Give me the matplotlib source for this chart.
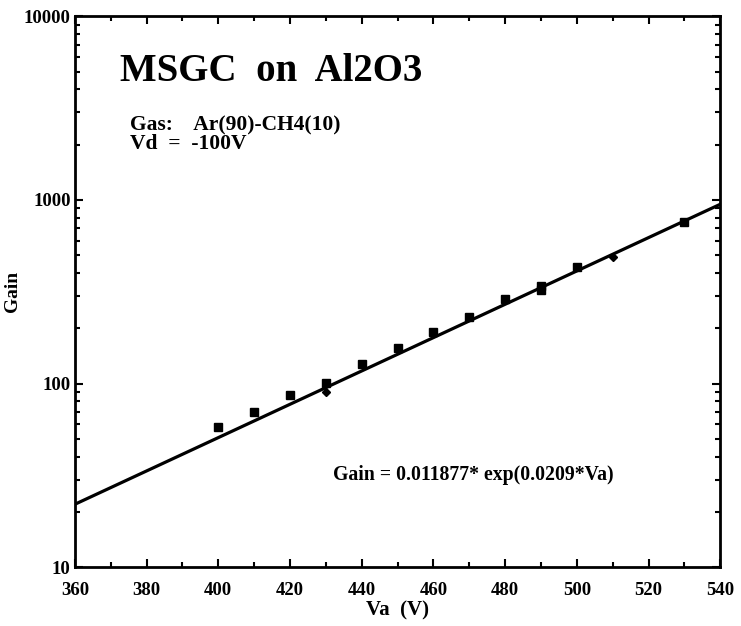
import numpy as np
import matplotlib
matplotlib.use('Agg')
import matplotlib.pyplot as plt
from matplotlib.ticker import MultipleLocator, LogLocator, NullFormatter, FixedLocator

# measured gain (squares)
va_sq = [400, 410, 420, 430, 440, 450, 460, 470, 480, 490, 490, 500, 530]
gain_sq = [58, 70, 87, 101, 127, 156, 190, 230, 287, 340, 322, 430, 755]

# second series (small diamonds)
va_dm = [430, 510]
gain_dm = [90, 490]

# exponential fit  Gain = a * exp(b * Va)
fit_a = 0.011877
fit_b = 0.0209
va_fit = np.linspace(360, 540, 200)

x_ticks = [360, 380, 400, 420, 440, 460, 480, 500, 520, 540]
y_ticks = [10, 100, 1000, 10000]

serif = ['Liberation Serif', 'DejaVu Serif']

fig = plt.figure(figsize=(7.41, 6.26), dpi=100)
ax = fig.add_axes([0.101, 0.094, 0.871, 0.880])

ax.plot(va_fit, fit_a * np.exp(fit_b * va_fit), color='black', linewidth=2.3)
ax.plot(va_sq, gain_sq, 's', color='black', markersize=6)
ax.plot(va_dm, gain_dm, 'D', color='black', markersize=4.5)

ax.set_yscale('log')
ax.set_xlim(360, 540)
ax.set_ylim(10, 10000)

ax.xaxis.set_major_locator(FixedLocator(x_ticks))
ax.xaxis.set_minor_locator(MultipleLocator(10))
ax.yaxis.set_major_locator(FixedLocator(y_ticks))
ax.yaxis.set_minor_locator(LogLocator(base=10, subs=np.arange(2, 10)))
ax.yaxis.set_minor_formatter(NullFormatter())
ax.set_xticklabels([str(v) for v in x_ticks])
ax.set_yticklabels([str(v) for v in y_ticks])

ax.tick_params(which='both', direction='in', top=True, right=True, width=1.5)
ax.tick_params(which='major', length=6)
ax.tick_params(which='minor', length=3.5)
ax.tick_params(axis='x', which='major', pad=11)
ax.tick_params(axis='y', which='major', pad=3)
for lab in ax.get_xticklabels() + ax.get_yticklabels():
    lab.set_fontfamily(serif)
    lab.set_fontweight('bold')
    lab.set_fontsize(13.5)

for sp in ax.spines.values():
    sp.set_linewidth(2)

ax.set_xlabel('Va  (V)', fontfamily=serif, fontweight='bold', fontsize=15, labelpad=1)
ax.set_ylabel('Gain', fontfamily=serif, fontweight='bold', fontsize=14)
ax.yaxis.set_label_coords(-0.083, 0.5)

ax.text(0.07, 0.9, 'MSGC  on  Al2O3', transform=ax.transAxes,
        fontfamily=serif, fontweight='bold', fontsize=28, va='center')
ax.text(0.085, 0.785, 'Gas:    Ar(90)-CH4(10)\nVd  =  -100V', transform=ax.transAxes,
        fontfamily=serif, fontweight='bold', fontsize=15.5, va='center', linespacing=0.9)
ax.text(0.4, 0.167, 'Gain = 0.011877* exp(0.0209*Va)', transform=ax.transAxes,
        fontfamily=serif, fontweight='bold', fontsize=14.2, va='center')

fig.savefig('out.png', dpi=100)
